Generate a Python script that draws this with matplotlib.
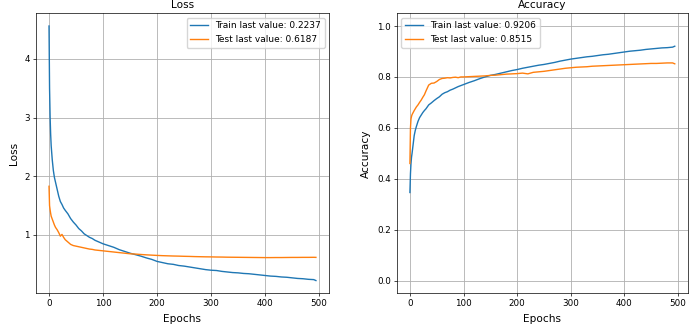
import matplotlib
matplotlib.use("Agg")
import matplotlib.pyplot as plt

epochs = [0, 1, 2, 3, 4, 6, 8, 10, 12, 15, 18, 21, 24, 27, 30,
          35, 40, 45, 50, 55, 60, 65, 70, 75, 80, 85, 90, 95, 100,
          110, 120, 130, 140, 150, 160, 170, 180, 190, 200,
          210, 220, 230, 240, 250, 260, 270, 280, 290, 300,
          310, 320, 330, 340, 350, 360, 370, 380, 390, 400,
          410, 420, 430, 440, 450, 460, 470, 480, 490, 494]

train_loss = [4.56, 3.50, 3.02, 2.72, 2.52, 2.28, 2.10, 1.98, 1.90, 1.78, 1.66, 1.57, 1.52, 1.46, 1.42,
              1.36, 1.28, 1.22, 1.17, 1.11, 1.07, 1.02, 0.99, 0.96, 0.94, 0.91, 0.89, 0.87, 0.85,
              0.82, 0.79, 0.75, 0.72, 0.69, 0.665, 0.64, 0.61, 0.585, 0.55,
              0.53, 0.51, 0.50, 0.48, 0.47, 0.455, 0.44, 0.425, 0.41, 0.40,
              0.395, 0.38, 0.37, 0.36, 0.355, 0.345, 0.34, 0.33, 0.32, 0.31,
              0.30, 0.295, 0.285, 0.28, 0.27, 0.26, 0.255, 0.245, 0.24, 0.2237]

test_loss = [1.83, 1.50, 1.43, 1.37, 1.32, 1.27, 1.22, 1.17, 1.13, 1.09, 1.04, 0.98, 1.01, 0.96, 0.92,
             0.88, 0.84, 0.82, 0.81, 0.80, 0.79, 0.78, 0.77, 0.76, 0.755, 0.745, 0.74, 0.735, 0.73,
             0.72, 0.71, 0.70, 0.69, 0.68, 0.675, 0.668, 0.662, 0.657, 0.652,
             0.648, 0.645, 0.642, 0.64, 0.637, 0.635, 0.632, 0.63, 0.628, 0.627,
             0.625, 0.624, 0.622, 0.621, 0.62, 0.619, 0.618, 0.617, 0.616, 0.615,
             0.615, 0.616, 0.616, 0.617, 0.618, 0.618, 0.619, 0.619, 0.62, 0.6187]

train_acc = [0.346, 0.42, 0.46, 0.485, 0.50, 0.535, 0.57, 0.59, 0.605, 0.625, 0.64, 0.65, 0.66, 0.668, 0.675,
             0.69, 0.698, 0.707, 0.715, 0.722, 0.732, 0.738, 0.742, 0.748, 0.752, 0.757, 0.762, 0.766, 0.77,
             0.778, 0.785, 0.793, 0.80, 0.806, 0.81, 0.815, 0.82, 0.825, 0.829,
             0.834, 0.838, 0.842, 0.846, 0.849, 0.853, 0.857, 0.862, 0.866, 0.87,
             0.873, 0.876, 0.879, 0.881, 0.884, 0.887, 0.889, 0.892, 0.895, 0.898,
             0.901, 0.903, 0.905, 0.908, 0.910, 0.912, 0.914, 0.915, 0.917, 0.9206]

test_acc = [0.46, 0.60, 0.635, 0.645, 0.652, 0.66, 0.668, 0.675, 0.682, 0.69, 0.70, 0.709, 0.72, 0.73, 0.745,
            0.768, 0.775, 0.776, 0.782, 0.790, 0.794, 0.795, 0.797, 0.796, 0.798, 0.799, 0.797, 0.80, 0.80,
            0.801, 0.802, 0.803, 0.804, 0.806, 0.807, 0.809, 0.811, 0.812, 0.813,
            0.815, 0.812, 0.818, 0.82, 0.822, 0.825, 0.828, 0.831, 0.834, 0.836,
            0.838, 0.839, 0.84, 0.842, 0.843, 0.844, 0.845, 0.846, 0.847, 0.848,
            0.849, 0.85, 0.851, 0.852, 0.853, 0.853, 0.854, 0.855, 0.855, 0.8515]

plt.rcParams['font.family'] = ['DejaVu Sans']
fig = plt.figure(figsize=(6.9, 3.28), dpi=100)
ax1 = fig.add_axes([0.0517, 0.1058, 0.4255, 0.8537])
ax2 = fig.add_axes([0.5749, 0.1058, 0.4222, 0.8537])

LW = 1.0
TICK_FS = 6.3
LABEL_FS = 7.6
TITLE_FS = 7.6
LEG_FS = 6.5

ax1.plot(epochs, train_loss, color='#1f77b4', lw=LW, label=f'Train last value: {train_loss[-1]:.4f}')
ax1.plot(epochs, test_loss, color='#ff7f0e', lw=LW, label=f'Test last value: {test_loss[-1]:.4f}')
ax1.set_title('Loss', fontsize=TITLE_FS, pad=4)
ax1.set_xlabel('Epochs', fontsize=LABEL_FS)
ax1.set_ylabel('Loss', fontsize=LABEL_FS)
ax1.legend(loc='upper right', fontsize=LEG_FS)

ax2.plot(epochs, train_acc, color='#1f77b4', lw=LW, label=f'Train last value: {train_acc[-1]:.4f}')
ax2.plot(epochs, test_acc, color='#ff7f0e', lw=LW, label=f'Test last value: {test_acc[-1]:.4f}')
ax2.set_title('Accuracy', fontsize=TITLE_FS, pad=4)
ax2.set_xlabel('Epochs', fontsize=LABEL_FS)
ax2.set_ylabel('Accuracy', fontsize=LABEL_FS)
ax2.set_ylim(-0.05, 1.05)
ax2.legend(loc='upper left', fontsize=LEG_FS)

for ax in (ax1, ax2):
    ax.grid(True, color='#b0b0b0', lw=0.6)
    ax.tick_params(labelsize=TICK_FS, length=2.2, width=0.5, pad=2)
    for s in ax.spines.values():
        s.set_linewidth(0.5)

fig.savefig('out.png', dpi=100)
